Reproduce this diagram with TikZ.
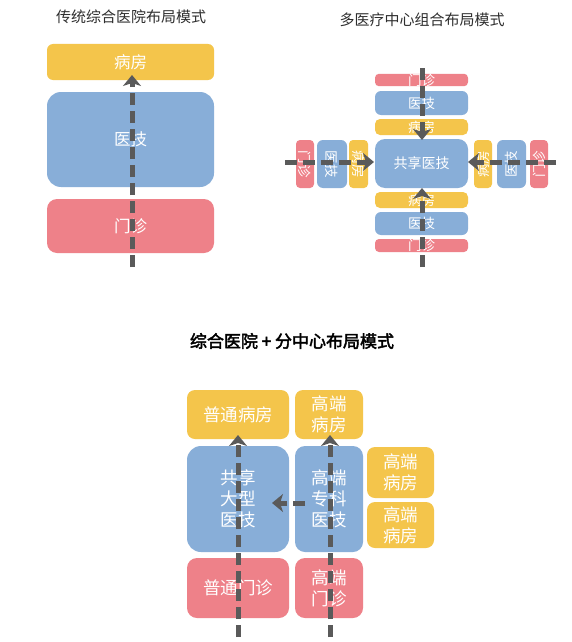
\documentclass[tikz,border=0pt]{standalone}
\usepackage{fontspec}
\setmainfont{Noto Sans CJK SC}
\newfontfamily\cjkbold{Noto Sans CJK SC}[FakeBold=2.5]
\usetikzlibrary{arrows.meta}
\definecolor{yel}{HTML}{F4C54B}
\definecolor{blu}{HTML}{88AED8}
\definecolor{pnk}{HTML}{EE8189}
\definecolor{arr}{HTML}{5A5A5A}
\definecolor{ttl}{HTML}{2E2E2E}
\tikzset{
  bx/.style={draw=none, rounded corners=#1, inner sep=0pt, text=white, align=center},
  bx/.default=6pt,
  flow/.style={draw=arr, line width=5pt, dash pattern=on 12pt off 6pt,
    -{Stealth[length=11pt,width=18pt,inset=3pt]}},
  ttlstyle/.style={text=ttl, inner sep=0pt},
  fA/.style={font=\fontsize{16.5}{18}\selectfont},
  fB/.style={font=\fontsize{13.5}{14}\selectfont},
  fC/.style={font=\fontsize{17.5}{21}\selectfont}
}
\begin{document}
\begin{tikzpicture}[x=1pt,y=-1pt]
\useasboundingbox[fill=white] (0,0) rectangle (571,642);
% ---------- panel 1 ----------
\node[ttlstyle, font=\fontsize{15}{17}\selectfont] (t1) at (131,17) {传统综合医院布局模式};
\node[bx=6pt, fill=yel, minimum width=167pt, minimum height=36pt, fA] (a_bf) at (130.5,62) {病房};
\node[bx=14pt, fill=blu, minimum width=167pt, minimum height=95pt, fA] (a_yj) at (130.5,139.5) {医技};
\node[bx=10pt, fill=pnk, minimum width=167pt, minimum height=54pt, fA] (a_mz) at (130.5,226) {门诊};
\coordinate (a_s) at (132,267);
\coordinate (a_e) at (132,75);
\draw[flow] (a_s) -- (a_e);
% ---------- panel 2 ----------
\node[ttlstyle, font=\fontsize{15}{17}\selectfont] (t2) at (422,20) {多医疗中心组合布局模式};
\node[bx=4pt, fill=pnk, minimum width=93pt, minimum height=12pt, fB] (b_tmz) at (421.5,80) {门诊};
\node[bx=6pt, fill=blu, minimum width=93pt, minimum height=24pt, fB] (b_tyj) at (421.5,103) {医技};
\node[bx=5pt, fill=yel, minimum width=93pt, minimum height=16pt, fB] (b_tbf) at (421.5,127) {病房};
\node[bx=10pt, fill=blu, minimum width=93pt, minimum height=49pt, font=\fontsize{14}{15}\selectfont] (b_gx) at (421.5,163.5) {共享医技};
\node[bx=5pt, fill=yel, minimum width=93pt, minimum height=16pt, fB] (b_bbf) at (421.5,200) {病房};
\node[bx=6pt, fill=blu, minimum width=93pt, minimum height=23pt, fB] (b_byj) at (421.5,223.5) {医技};
\node[bx=4pt, fill=pnk, minimum width=93pt, minimum height=13pt, fB] (b_bmz) at (421.5,245.5) {门诊};
% left
\node[bx=4pt, fill=pnk, minimum width=18pt, minimum height=48pt] (b_lmz) at (305,164) {};
\node[rotate=-90, text=white, fB] at (b_lmz) {门诊};
\node[bx=6pt, fill=blu, minimum width=30pt, minimum height=48pt] (b_lyj) at (332,164) {};
\node[rotate=-90, text=white, fB] at (b_lyj) {医技};
\node[bx=4pt, fill=yel, minimum width=19pt, minimum height=48pt] (b_lbf) at (358.5,164) {};
\node[rotate=-90, text=white, fB] at (b_lbf) {病房};
% right
\node[bx=4pt, fill=yel, minimum width=18pt, minimum height=48pt] (b_rbf) at (483,164) {};
\node[rotate=90, text=white, fB] at (b_rbf) {病房};
\node[bx=6pt, fill=blu, minimum width=29pt, minimum height=48pt] (b_ryj) at (511.5,164) {};
\node[rotate=90, text=white, fB] at (b_ryj) {医技};
\node[bx=4pt, fill=pnk, minimum width=18pt, minimum height=48pt] (b_rmz) at (539,164) {};
\node[rotate=90, text=white, fB] at (b_rmz) {门诊};
% arrows
\coordinate (b_ts) at (422,68);   \coordinate (b_te) at (422,140);
\coordinate (b_bs) at (422,267);  \coordinate (b_be) at (422,188);
\coordinate (b_ls) at (285,162);  \coordinate (b_le) at (374,162);
\coordinate (b_rs) at (556,162);  \coordinate (b_re) at (468,162);
\draw[flow] (b_ts) -- (b_te);
\draw[flow] (b_bs) -- (b_be);
\draw[flow] (b_ls) -- (b_le);
\draw[flow] (b_rs) -- (b_re);
% ---------- panel 3 ----------
\node[ttlstyle, text=black, font=\cjkbold\fontsize{17}{19}\selectfont] (t3) at (292,341) {综合医院 + 分中心布局模式};
\node[bx=8pt, fill=yel, minimum width=102pt, minimum height=49pt, fC] (c_ptbf) at (238,414.5) {普通病房};
\node[bx=8pt, fill=yel, minimum width=68pt, minimum height=49pt, fC] (c_gdbf) at (329,414.5) {高端\\病房};
\node[bx=14pt, fill=blu, minimum width=102pt, minimum height=106pt, fC] (c_gx) at (238,499) {共享\\大型\\医技};
\node[bx=10pt, fill=blu, minimum width=68pt, minimum height=106pt, fC] (c_zk) at (329,499) {高端\\专科\\医技};
\node[bx=10pt, fill=pnk, minimum width=102pt, minimum height=60pt, fC] (c_ptmz) at (238,588) {普通门诊};
\node[bx=10pt, fill=pnk, minimum width=68pt, minimum height=60pt, fC] (c_gdmz) at (329,588) {高端\\门诊};
\node[bx=8pt, fill=yel, minimum width=67pt, minimum height=51pt, fC] (c_r1) at (400.5,472.5) {高端\\病房};
\node[bx=8pt, fill=yel, minimum width=67pt, minimum height=46pt, fC] (c_r2) at (400.5,525) {高端\\病房};
\coordinate (c_s1) at (238,637); \coordinate (c_e1) at (238,435);
\coordinate (c_s2) at (330,637); \coordinate (c_e2) at (330,435);
\coordinate (c_s3) at (305,503); \coordinate (c_e3) at (272,503);
\draw[flow] (c_s1) -- (c_e1);
\draw[flow] (c_s2) -- (c_e2);
\draw[flow] (c_s3) -- (c_e3);
\end{tikzpicture}
\end{document}
